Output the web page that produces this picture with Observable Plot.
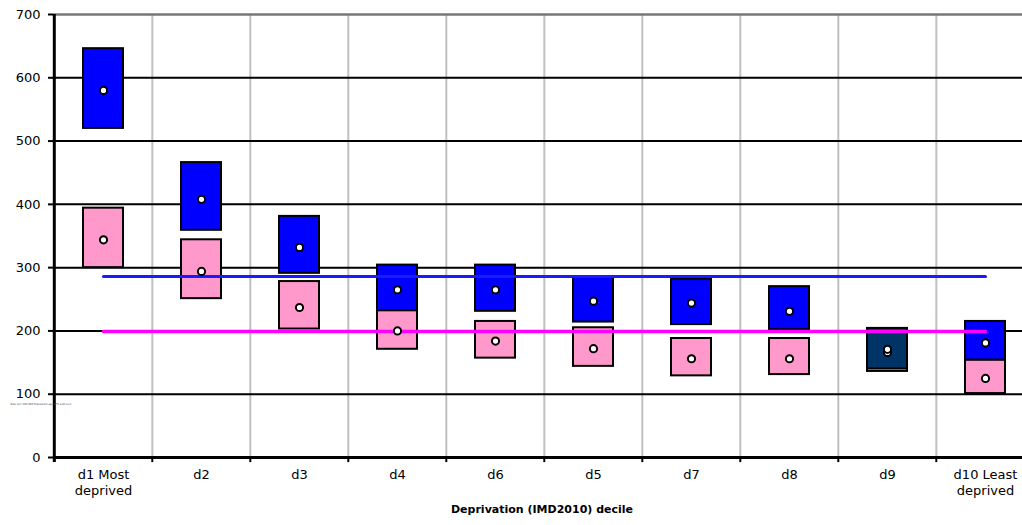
<!DOCTYPE html>
<html>
<head>
<meta charset="utf-8">
<script src="https://cdn.jsdelivr.net/npm/d3@7"></script>
<script src="https://cdn.jsdelivr.net/npm/@observablehq/plot@0.6"></script>
<style>
  html, body { margin: 0; padding: 0; background: #fff; overflow: hidden; }
</style>
</head>
<body>
<div id="chart"></div>
<script>
const categories = ["d1 Most\ndeprived", "d2", "d3", "d4", "d6", "d5", "d7", "d8", "d9", "d10 Least\ndeprived"];
const blueRate = [580, 408, 332, 265, 265, 247, 244, 231, 171, 181];
const blueLow  = [520, 359, 291, 232, 231, 214, 210, 202, 140, 154];
const blueHigh = [646, 466, 381, 304, 304, 286, 282, 270, 204, 215];
const pinkRate = [344, 294, 237, 200, 184, 172, 156, 156, 166, 125];
const pinkLow  = [300, 251, 203, 171, 157, 144, 129, 131, 136, 101];
const pinkHigh = [394, 344, 278, 232, 215, 205, 188, 188, 202, 154];
const blueAverage = 286;
const pinkAverage = 199;
const yTicks = [0, 100, 200, 300, 400, 500, 600, 700];
const xTitle = "Deprivation (IMD2010) decile";
const yTitle = "Rate per 100,000 Population aged 75 and over";

const rows = categories.map((c, i) => ({
  cat: c,
  blueRate: blueRate[i], blueLow: blueLow[i], blueHigh: blueHigh[i],
  pinkRate: pinkRate[i], pinkLow: pinkLow[i], pinkHigh: pinkHigh[i]
}));

const W = 1022, H = 525;
const mLeft = 53, mTop = 14, mBottom = 68;
const xRange = [51.5, 1035.5];
const bw = (xRange[1] - xRange[0]) / categories.length;
const half = -bw / 2;

const chart = Plot.plot({
  width: W,
  height: H,
  marginLeft: mLeft,
  marginRight: 0,
  marginTop: mTop,
  marginBottom: mBottom,
  style: { fontFamily: "DejaVu Sans", fontSize: "13px", background: "#fff", color: "#000" },
  x: { type: "band", domain: categories, range: xRange, padding: 0, axis: null },
  y: { domain: [0, 700], axis: null },
  marks: [
    Plot.ruleX(categories.slice(1), { x: d => d, y1: 0, y2: 700, dx: half, stroke: "#c0c0c0", strokeWidth: 2 }),
    Plot.ruleY(yTicks.filter(v => v > 0 && v < 700), { stroke: "#000", strokeWidth: 2 }),
    Plot.ruleY([700], { stroke: "#777", strokeWidth: 2.5 }),
    Plot.barY(rows, { x: "cat", y1: "pinkLow", y2: "pinkHigh", fill: "#ff99cc", stroke: "#000", strokeWidth: 2, insetLeft: 29, insetRight: 29 }),
    Plot.barY(rows, { x: "cat", y1: "blueLow", y2: "blueHigh",
      fill: d => (d.blueLow < d.pinkHigh - 5 ? "#003366" : "#0000ff"),
      stroke: "#000", strokeWidth: 2, insetLeft: 29, insetRight: 29 }),
    Plot.lineY(rows, { x: "cat", y: () => blueAverage, stroke: "#1a1aff", strokeWidth: 3 }),
    Plot.lineY(rows, { x: "cat", y: () => pinkAverage, stroke: "#ff00ff", strokeWidth: 3.5 }),
    Plot.dot(rows, { x: "cat", y: "pinkRate", r: 3.6, fill: "#fff", stroke: "#000", strokeWidth: 2 }),
    Plot.dot(rows, { x: "cat", y: "blueRate", r: 3.6, fill: "#fff", stroke: "#000", strokeWidth: 2 }),
    Plot.ruleY([0], { stroke: "#000", strokeWidth: 3 }),
    Plot.ruleX([categories[0]], { x: d => d, y1: -8, y2: 700, dx: half, stroke: "#000", strokeWidth: 3 }),
    Plot.ruleX(categories, { x: d => d, y1: 0, y2: -8, dx: half, stroke: "#000", strokeWidth: 2 }),
    Plot.axisY(yTicks, { tickSize: 5, tickPadding: 8, stroke: "#000", strokeWidth: 2, fontSize: 13, label: null }),
    Plot.text(categories, { x: d => d, frameAnchor: "bottom", dy: 11, text: d => d, lineAnchor: "top", lineHeight: 1.17, fontSize: 13, fill: "#000" }),
    Plot.text([xTitle], { frameAnchor: "bottom", dx: 4, dy: 55, text: d => d, fontWeight: "bold", fontSize: 11, fill: "#000" }),
    Plot.text([yTitle], { frameAnchor: "left", y: () => 85, dx: -43, text: d => d, textAnchor: "start", fontSize: 2.6, fill: "#444" })
  ]
});

document.getElementById("chart").appendChild(chart);
</script>
</body>
</html>
